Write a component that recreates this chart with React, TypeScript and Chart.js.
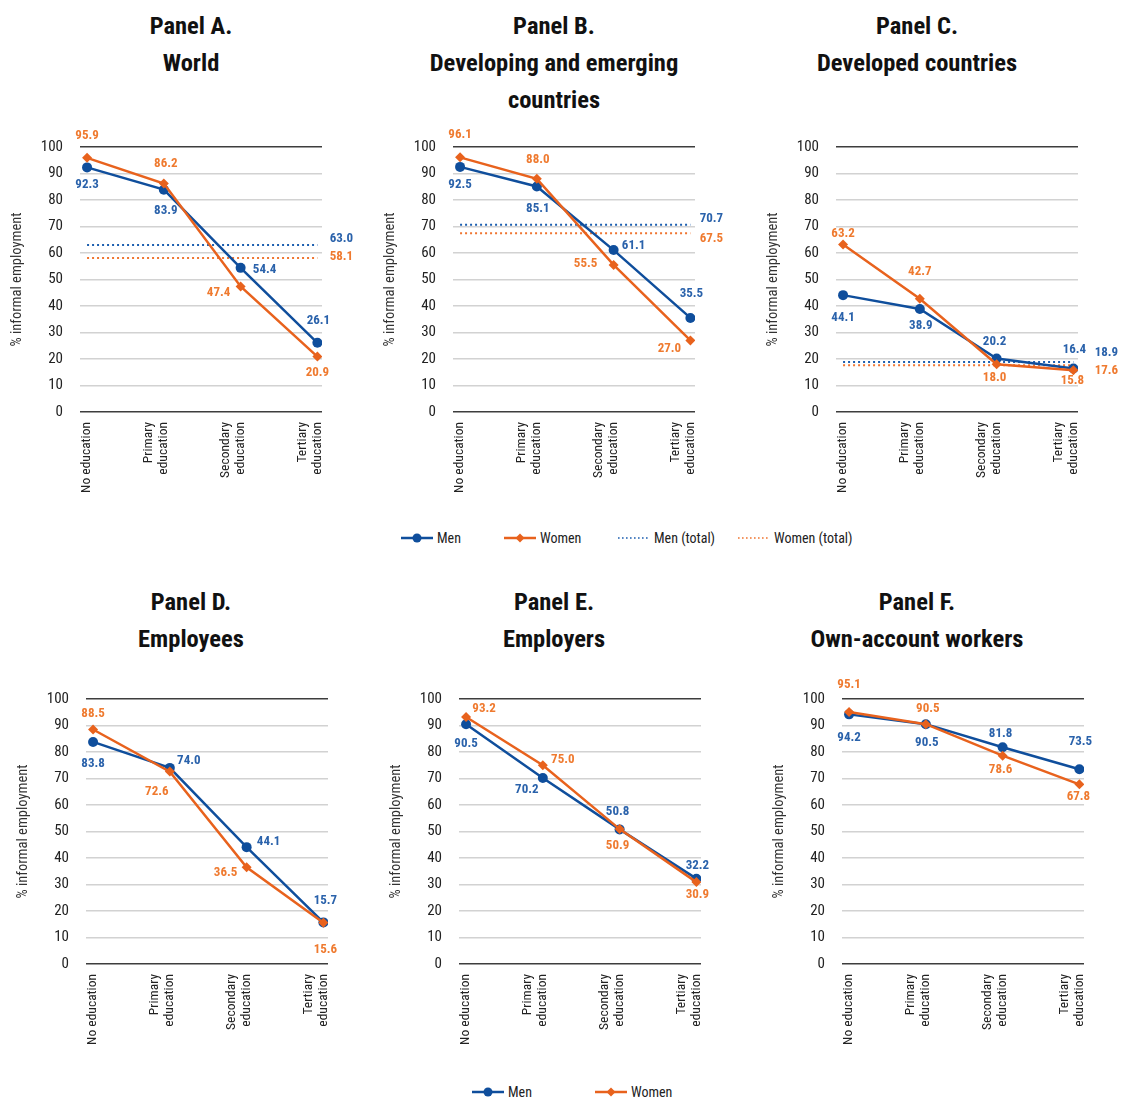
import React, { useEffect, useRef } from "react";
import { Chart, registerables } from "chart.js";

Chart.register(...registerables);

// ---------- DATA ----------
const CATEGORIES: string[][] = [
  ["No education"],
  ["Primary", "education"],
  ["Secondary", "education"],
  ["Tertiary", "education"],
];
const Y_AXIS_TITLE = "% informal employment";

const A_MEN = [92.3, 83.9, 54.4, 26.1];
const A_WOMEN = [95.9, 86.2, 47.4, 20.9];
const A_MEN_TOTAL = 63.0;
const A_WOMEN_TOTAL = 58.1;

const B_MEN = [92.5, 85.1, 61.1, 35.5];
const B_WOMEN = [96.1, 88.0, 55.5, 27.0];
const B_MEN_TOTAL = 70.7;
const B_WOMEN_TOTAL = 67.5;

const C_MEN = [44.1, 38.9, 20.2, 16.4];
const C_WOMEN = [63.2, 42.7, 18.0, 15.8];
const C_MEN_TOTAL = 18.9;
const C_WOMEN_TOTAL = 17.6;

const D_MEN = [83.8, 74.0, 44.1, 15.7];
const D_WOMEN = [88.5, 72.6, 36.5, 15.6];

const E_MEN = [90.5, 70.2, 50.8, 32.2];
const E_WOMEN = [93.2, 75.0, 50.9, 30.9];

const F_MEN = [94.2, 90.5, 81.8, 73.5];
const F_WOMEN = [95.1, 90.5, 78.6, 67.8];

// ---------- STYLE ----------
const FONT = "'Roboto Condensed', 'Open Sans', 'DejaVu Sans Condensed', sans-serif";
const BLUE = "#0f4e9c";
const ORANGE = "#e8621d";
const BLUE_TEXT = "#2a62ab";
const ORANGE_TEXT = "#ef7a2f";
const AREA_W = 242;
const Y_AXIS_W = 72;
const X_AXIS_H = 92;
const PAD_RIGHT = 43;

type Off = [number, number];
interface PanelCfg {
  title: string[];
  titleX: number;
  titleTop: number;
  row: number;
  areaLeft: number;
  men: number[];
  women: number[];
  menTotal?: number;
  womenTotal?: number;
  menOff: Off[];
  womenOff: Off[];
  menTotalOff?: Off;
  womenTotalOff?: Off;
}

const PANELS: PanelCfg[] = [
  {
    title: ["Panel A.", "World"], titleX: 191, titleTop: 6.5, row: 0, areaLeft: 80,
    men: A_MEN, women: A_WOMEN, menTotal: A_MEN_TOTAL, womenTotal: A_WOMEN_TOTAL,
    menOff: [[0, 17], [2, 21], [24, 2], [1, -22]],
    womenOff: [[0, -22], [2, -20], [-22, 6], [0, 16]],
    menTotalOff: [24, -6], womenTotalOff: [24, -1],
  },
  {
    title: ["Panel B.", "Developing and emerging", "countries"], titleX: 554, titleTop: 6.5, row: 0, areaLeft: 453,
    men: B_MEN, women: B_WOMEN, menTotal: B_MEN_TOTAL, womenTotal: B_WOMEN_TOTAL,
    menOff: [[0, 18], [1, 22], [20, -4], [1, -24]],
    womenOff: [[0, -23], [1, -19], [-28, -1], [-21, 8]],
    menTotalOff: [21, -6], womenTotalOff: [21, 6],
  },
  {
    title: ["Panel C.", "Developed countries"], titleX: 917, titleTop: 6.5, row: 0, areaLeft: 836,
    men: C_MEN, women: C_WOMEN, menTotal: C_MEN_TOTAL, womenTotal: C_WOMEN_TOTAL,
    menOff: [[0, 23], [1, 17], [-2, -17], [1, -19]],
    womenOff: [[0, -11], [0, -27], [-2, 13], [-1, 11]],
    menTotalOff: [33, -9], womenTotalOff: [33, 5],
  },
  {
    title: ["Panel D.", "Employees"], titleX: 191, titleTop: 582.5, row: 1, areaLeft: 86,
    men: D_MEN, women: D_WOMEN,
    menOff: [[0, 22], [19, -7], [22, -5], [2, -22]],
    womenOff: [[0, -16], [-13, 20], [-21, 5], [2, 27]],
  },
  {
    title: ["Panel E.", "Employers"], titleX: 554, titleTop: 582.5, row: 1, areaLeft: 459,
    men: E_MEN, women: E_WOMEN,
    menOff: [[0, 20], [-16, 12], [-2, -18], [1, -13]],
    womenOff: [[18, -8], [20, -6], [-2, 17], [1, 13]],
  },
  {
    title: ["Panel F.", "Own-account workers"], titleX: 917, titleTop: 582.5, row: 1, areaLeft: 842,
    men: F_MEN, women: F_WOMEN,
    menOff: [[0, 23], [1, 19], [-2, -13], [1, -27]],
    womenOff: [[0, -27], [2, -15], [-2, 14], [-1, 12]],
  },
];

// rows: canvas top, chart-area top, chart-area bottom
const ROWS = [
  { canvasTop: 125, areaTop: 147, areaBottom: 412 },
  { canvasTop: 672, areaTop: 699, areaBottom: 964 },
];

const valueLabels = {
  id: "valueLabels",
  afterDatasetsDraw(chart: any) {
    const ctx = chart.ctx;
    ctx.save();
    ctx.font = `bold 13px ${FONT}`;
    ctx.textAlign = "center";
    ctx.textBaseline = "middle";
    chart.data.datasets.forEach((ds: any, di: number) => {
      const offs = ds.labelOffsets as (Off | null)[] | undefined;
      if (!offs) return;
      const meta = chart.getDatasetMeta(di);
      ctx.fillStyle = ds.labelColor;
      meta.data.forEach((pt: any, i: number) => {
        const o = offs[i];
        if (!o) return;
        const v = ds.data[i].y as number;
        ctx.fillText(v.toFixed(1), pt.x + o[0], pt.y + o[1]);
      });
    });
    ctx.restore();
  },
};

function Panel({ cfg }: { cfg: PanelCfg }) {
  const ref = useRef<HTMLCanvasElement>(null);
  const row = ROWS[cfg.row];
  const width = Y_AXIS_W + AREA_W + PAD_RIGHT;
  const height = row.areaBottom - row.canvasTop + X_AXIS_H;
  const left = cfg.areaLeft - Y_AXIS_W;

  useEffect(() => {
    const last = CATEGORIES.length - 1;
    const datasets: any[] = [
      {
        label: "Women",
        data: cfg.women.map((v, i) => ({ x: i, y: v })),
        borderColor: ORANGE,
        backgroundColor: ORANGE,
        borderWidth: 2.5,
        pointStyle: "rectRot",
        pointRadius: 5,
        pointBorderWidth: 0,
        order: 0,
        labelOffsets: cfg.womenOff,
        labelColor: ORANGE_TEXT,
      },
      {
        label: "Men",
        data: cfg.men.map((v, i) => ({ x: i, y: v })),
        borderColor: BLUE,
        backgroundColor: BLUE,
        borderWidth: 2.5,
        pointStyle: "circle",
        pointRadius: 5,
        pointBorderWidth: 0,
        order: 1,
        labelOffsets: cfg.menOff,
        labelColor: BLUE_TEXT,
      },
    ];
    if (cfg.menTotal !== undefined) {
      datasets.push({
        label: "Men (total)",
        data: [{ x: 0, y: cfg.menTotal }, { x: last, y: cfg.menTotal }],
        borderColor: "#1d5fb0",
        borderWidth: 2,
        borderDash: [2, 3],
        pointRadius: 0,
        order: 2,
        labelOffsets: [null, cfg.menTotalOff],
        labelColor: BLUE_TEXT,
      });
    }
    if (cfg.womenTotal !== undefined) {
      datasets.push({
        label: "Women (total)",
        data: [{ x: 0, y: cfg.womenTotal }, { x: last, y: cfg.womenTotal }],
        borderColor: "#f07530",
        borderWidth: 2,
        borderDash: [2, 3],
        pointRadius: 0,
        order: 3,
        labelOffsets: [null, cfg.womenTotalOff],
        labelColor: ORANGE_TEXT,
      });
    }

    const chart = new Chart(ref.current as HTMLCanvasElement, {
      type: "line",
      data: { datasets },
      plugins: [valueLabels as any],
      options: {
        animation: false,
        responsive: false,
        devicePixelRatio: 1,
        layout: { padding: { top: row.areaTop - row.canvasTop, right: PAD_RIGHT, left: 0, bottom: 0 } },
        plugins: { legend: { display: false }, tooltip: { enabled: false }, title: { display: false } },
        elements: { line: { tension: 0 } },
        scales: {
          x: {
            type: "linear",
            min: -0.092,
            max: 3.06,
            grid: { display: false, drawTicks: false },
            border: { display: false },
            afterBuildTicks: (scale: any) => {
              scale.ticks = CATEGORIES.map((_, i) => ({ value: i }));
            },
            afterFit: (scale: any) => {
              scale.height = X_AXIS_H;
              scale.paddingLeft = 0;
              scale.paddingRight = 0;
            },
            ticks: {
              autoSkip: false,
              maxRotation: 90,
              minRotation: 90,
              padding: 10,
              labelOffset: -15,
              color: "#222",
              font: { family: FONT, size: 13.5, lineHeight: 15 / 13.5 },
              callback: (v: any) => {
                const lines = CATEGORIES[Math.round(Number(v))] || [];
                return lines.length < 2 ? ["", ...lines] : lines;
              },
            },
          },
          y: {
            min: 0,
            max: 100,
            border: { display: false },
            afterFit: (scale: any) => {
              scale.width = Y_AXIS_W;
              scale.paddingTop = 0;
              scale.paddingBottom = 0;
            },
            grid: {
              drawTicks: false,
              lineWidth: 1.5,
              color: (c: any) => (c.tick && (c.tick.value === 0 || c.tick.value === 100) ? "#3d3d3d" : "#d2d2d2"),
            },
            ticks: {
              stepSize: 10,
              padding: 17,
              color: "#222",
              font: { family: FONT, size: 15 },
            },
            title: {
              display: true,
              text: Y_AXIS_TITLE,
              color: "#333",
              padding: 0,
              font: { family: FONT, size: 14.5, lineHeight: 18 / 14.5 },
            },
          },
        },
      } as any,
    });
    return () => chart.destroy();
  }, []);

  return (
    <>
      <div
        style={{
          position: "absolute",
          left: cfg.titleX - 180,
          top: cfg.titleTop,
          width: 360,
          textAlign: "center",
          fontFamily: FONT,
          fontWeight: "bold",
          fontSize: 24.5,
          lineHeight: "37px",
          color: "#111",
        }}
      >
        {cfg.title.map((t, i) => (
          <div key={i}>{t}</div>
        ))}
      </div>
      <canvas
        ref={ref}
        width={width}
        height={height}
        style={{ position: "absolute", left, top: row.canvasTop, width, height }}
      />
    </>
  );
}

interface LegendItem {
  label: string;
  kind: "circle" | "diamond" | "dotBlue" | "dotOrange";
  x: number;
}

function Legend({ items, y }: { items: LegendItem[]; y: number }) {
  return (
    <>
      {items.map((it, i) => {
        const color = it.kind === "circle" || it.kind === "dotBlue" ? BLUE : ORANGE;
        return (
          <div key={i} style={{ position: "absolute", left: it.x, top: y - 9, height: 18, display: "flex", alignItems: "center" }}>
            <svg width={32} height={12} style={{ display: "block" }}>
              {it.kind === "circle" || it.kind === "diamond" ? (
                <>
                  <line x1={0} y1={6} x2={32} y2={6} stroke={color} strokeWidth={2.5} />
                  {it.kind === "circle" ? (
                    <circle cx={16} cy={6} r={4.5} fill={color} />
                  ) : (
                    <polygon points="16,1.5 20.5,6 16,10.5 11.5,6" fill={color} />
                  )}
                </>
              ) : (
                <line
                  x1={0}
                  y1={6}
                  x2={32}
                  y2={6}
                  stroke={it.kind === "dotBlue" ? "#1d5fb0" : "#f07530"}
                  strokeWidth={1.6}
                  strokeDasharray="1.6 2.4"
                />
              )}
            </svg>
            <span style={{ marginLeft: 4, fontFamily: FONT, fontSize: 14, color: "#222", whiteSpace: "nowrap" }}>
              {it.label}
            </span>
          </div>
        );
      })}
    </>
  );
}

const LEGEND_TOP: LegendItem[] = [
  { label: "Men", kind: "circle", x: 401 },
  { label: "Women", kind: "diamond", x: 504 },
  { label: "Men (total)", kind: "dotBlue", x: 618 },
  { label: "Women (total)", kind: "dotOrange", x: 738 },
];
const LEGEND_BOTTOM: LegendItem[] = [
  { label: "Men", kind: "circle", x: 472 },
  { label: "Women", kind: "diamond", x: 595 },
];

export default function App() {
  return (
    <div
      style={{
        position: "absolute",
        left: 0,
        top: 0,
        width: 1121,
        height: 1099,
        overflow: "hidden",
        background: "#fff",
      }}
    >
      {PANELS.map((p, i) => (
        <Panel key={i} cfg={p} />
      ))}
      <Legend items={LEGEND_TOP} y={538} />
      <Legend items={LEGEND_BOTTOM} y={1092} />
    </div>
  );
}
